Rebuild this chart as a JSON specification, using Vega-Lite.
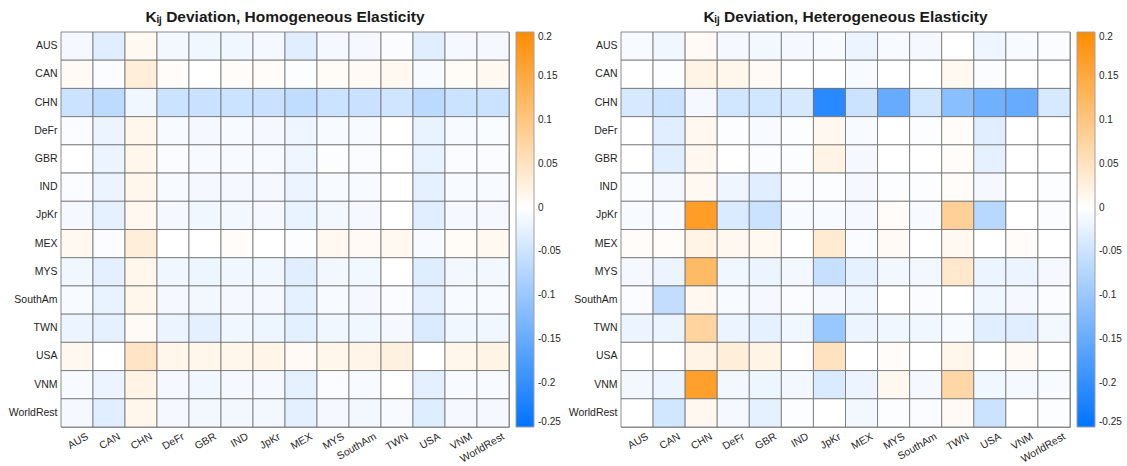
{
  "$schema": "https://vega.github.io/schema/vega-lite/v6.json",
  "padding": {"left": 7, "top": 9, "right": 0, "bottom": 0},
  "background": "white",
  "spacing": 5,
  "config": {
    "font": "Liberation Sans",
    "view": {"stroke": "#a0a0a0", "strokeWidth": 1},
    "title": {"fontSize": 15.5, "fontWeight": "bold", "color": "#1a1a1a", "offset": 6, "anchor": "middle"},
    "axis": {"labelFont": "Liberation Sans", "labelFontSize": 10.5, "labelColor": "#262626", "ticks": false, "domain": false, "grid": false, "title": null},
    "legend": {"labelFont": "Liberation Sans", "labelFontSize": 10, "labelColor": "#262626"}
  },
  "datasets": {
    "homog": [
      {"r":"AUS","c":"AUS","v":-0.01},{"r":"AUS","c":"CAN","v":-0.03},{"r":"AUS","c":"CHN","v":0.01},{"r":"AUS","c":"DeFr","v":-0.012},{"r":"AUS","c":"GBR","v":-0.015},{"r":"AUS","c":"IND","v":-0.015},{"r":"AUS","c":"JpKr","v":-0.01},{"r":"AUS","c":"MEX","v":-0.03},{"r":"AUS","c":"MYS","v":-0.01},{"r":"AUS","c":"SouthAm","v":-0.01},{"r":"AUS","c":"TWN","v":-0.005},{"r":"AUS","c":"USA","v":-0.03},{"r":"AUS","c":"VNM","v":-0.01},{"r":"AUS","c":"WorldRest","v":-0.01},
      {"r":"CAN","c":"AUS","v":0.008},{"r":"CAN","c":"CAN","v":-0.005},{"r":"CAN","c":"CHN","v":0.03},{"r":"CAN","c":"DeFr","v":0.005},{"r":"CAN","c":"GBR","v":0.0},{"r":"CAN","c":"IND","v":0.005},{"r":"CAN","c":"JpKr","v":0.005},{"r":"CAN","c":"MEX","v":-0.003},{"r":"CAN","c":"MYS","v":0.006},{"r":"CAN","c":"SouthAm","v":0.008},{"r":"CAN","c":"TWN","v":0.01},{"r":"CAN","c":"USA","v":-0.008},{"r":"CAN","c":"VNM","v":0.006},{"r":"CAN","c":"WorldRest","v":0.01},
      {"r":"CHN","c":"AUS","v":-0.05},{"r":"CHN","c":"CAN","v":-0.065},{"r":"CHN","c":"CHN","v":-0.015},{"r":"CHN","c":"DeFr","v":-0.05},{"r":"CHN","c":"GBR","v":-0.052},{"r":"CHN","c":"IND","v":-0.05},{"r":"CHN","c":"JpKr","v":-0.052},{"r":"CHN","c":"MEX","v":-0.062},{"r":"CHN","c":"MYS","v":-0.05},{"r":"CHN","c":"SouthAm","v":-0.052},{"r":"CHN","c":"TWN","v":-0.046},{"r":"CHN","c":"USA","v":-0.066},{"r":"CHN","c":"VNM","v":-0.05},{"r":"CHN","c":"WorldRest","v":-0.05},
      {"r":"DeFr","c":"AUS","v":-0.005},{"r":"DeFr","c":"CAN","v":-0.02},{"r":"DeFr","c":"CHN","v":0.015},{"r":"DeFr","c":"DeFr","v":-0.008},{"r":"DeFr","c":"GBR","v":-0.01},{"r":"DeFr","c":"IND","v":-0.008},{"r":"DeFr","c":"JpKr","v":-0.01},{"r":"DeFr","c":"MEX","v":-0.016},{"r":"DeFr","c":"MYS","v":-0.008},{"r":"DeFr","c":"SouthAm","v":-0.008},{"r":"DeFr","c":"TWN","v":0.0},{"r":"DeFr","c":"USA","v":-0.022},{"r":"DeFr","c":"VNM","v":-0.008},{"r":"DeFr","c":"WorldRest","v":-0.006},
      {"r":"GBR","c":"AUS","v":0.0},{"r":"GBR","c":"CAN","v":-0.02},{"r":"GBR","c":"CHN","v":0.015},{"r":"GBR","c":"DeFr","v":-0.005},{"r":"GBR","c":"GBR","v":-0.008},{"r":"GBR","c":"IND","v":-0.008},{"r":"GBR","c":"JpKr","v":-0.008},{"r":"GBR","c":"MEX","v":-0.016},{"r":"GBR","c":"MYS","v":-0.003},{"r":"GBR","c":"SouthAm","v":-0.005},{"r":"GBR","c":"TWN","v":0.0},{"r":"GBR","c":"USA","v":-0.022},{"r":"GBR","c":"VNM","v":-0.005},{"r":"GBR","c":"WorldRest","v":-0.005},
      {"r":"IND","c":"AUS","v":-0.005},{"r":"IND","c":"CAN","v":-0.02},{"r":"IND","c":"CHN","v":0.015},{"r":"IND","c":"DeFr","v":-0.008},{"r":"IND","c":"GBR","v":-0.01},{"r":"IND","c":"IND","v":-0.01},{"r":"IND","c":"JpKr","v":-0.01},{"r":"IND","c":"MEX","v":-0.02},{"r":"IND","c":"MYS","v":-0.008},{"r":"IND","c":"SouthAm","v":-0.008},{"r":"IND","c":"TWN","v":0.0},{"r":"IND","c":"USA","v":-0.025},{"r":"IND","c":"VNM","v":-0.008},{"r":"IND","c":"WorldRest","v":-0.008},
      {"r":"JpKr","c":"AUS","v":-0.01},{"r":"JpKr","c":"CAN","v":-0.025},{"r":"JpKr","c":"CHN","v":0.012},{"r":"JpKr","c":"DeFr","v":-0.01},{"r":"JpKr","c":"GBR","v":-0.015},{"r":"JpKr","c":"IND","v":-0.012},{"r":"JpKr","c":"JpKr","v":-0.01},{"r":"JpKr","c":"MEX","v":-0.022},{"r":"JpKr","c":"MYS","v":-0.012},{"r":"JpKr","c":"SouthAm","v":-0.01},{"r":"JpKr","c":"TWN","v":0.0},{"r":"JpKr","c":"USA","v":-0.03},{"r":"JpKr","c":"VNM","v":-0.01},{"r":"JpKr","c":"WorldRest","v":-0.01},
      {"r":"MEX","c":"AUS","v":0.01},{"r":"MEX","c":"CAN","v":-0.005},{"r":"MEX","c":"CHN","v":0.03},{"r":"MEX","c":"DeFr","v":0.0},{"r":"MEX","c":"GBR","v":0.0},{"r":"MEX","c":"IND","v":0.005},{"r":"MEX","c":"JpKr","v":0.0},{"r":"MEX","c":"MEX","v":-0.004},{"r":"MEX","c":"MYS","v":0.01},{"r":"MEX","c":"SouthAm","v":0.008},{"r":"MEX","c":"TWN","v":0.01},{"r":"MEX","c":"USA","v":-0.008},{"r":"MEX","c":"VNM","v":0.006},{"r":"MEX","c":"WorldRest","v":0.01},
      {"r":"MYS","c":"AUS","v":-0.015},{"r":"MYS","c":"CAN","v":-0.026},{"r":"MYS","c":"CHN","v":0.015},{"r":"MYS","c":"DeFr","v":-0.015},{"r":"MYS","c":"GBR","v":-0.018},{"r":"MYS","c":"IND","v":-0.015},{"r":"MYS","c":"JpKr","v":-0.015},{"r":"MYS","c":"MEX","v":-0.03},{"r":"MYS","c":"MYS","v":-0.012},{"r":"MYS","c":"SouthAm","v":-0.013},{"r":"MYS","c":"TWN","v":0.0},{"r":"MYS","c":"USA","v":-0.032},{"r":"MYS","c":"VNM","v":-0.012},{"r":"MYS","c":"WorldRest","v":-0.012},
      {"r":"SouthAm","c":"AUS","v":-0.008},{"r":"SouthAm","c":"CAN","v":-0.022},{"r":"SouthAm","c":"CHN","v":0.015},{"r":"SouthAm","c":"DeFr","v":-0.01},{"r":"SouthAm","c":"GBR","v":-0.012},{"r":"SouthAm","c":"IND","v":-0.01},{"r":"SouthAm","c":"JpKr","v":-0.01},{"r":"SouthAm","c":"MEX","v":-0.025},{"r":"SouthAm","c":"MYS","v":-0.008},{"r":"SouthAm","c":"SouthAm","v":-0.01},{"r":"SouthAm","c":"TWN","v":-0.005},{"r":"SouthAm","c":"USA","v":-0.026},{"r":"SouthAm","c":"VNM","v":-0.008},{"r":"SouthAm","c":"WorldRest","v":-0.008},
      {"r":"TWN","c":"AUS","v":-0.02},{"r":"TWN","c":"CAN","v":-0.025},{"r":"TWN","c":"CHN","v":0.008},{"r":"TWN","c":"DeFr","v":-0.02},{"r":"TWN","c":"GBR","v":-0.026},{"r":"TWN","c":"IND","v":-0.015},{"r":"TWN","c":"JpKr","v":-0.018},{"r":"TWN","c":"MEX","v":-0.027},{"r":"TWN","c":"MYS","v":-0.015},{"r":"TWN","c":"SouthAm","v":-0.015},{"r":"TWN","c":"TWN","v":-0.01},{"r":"TWN","c":"USA","v":-0.036},{"r":"TWN","c":"VNM","v":-0.015},{"r":"TWN","c":"WorldRest","v":-0.015},
      {"r":"USA","c":"AUS","v":0.012},{"r":"USA","c":"CAN","v":0.0},{"r":"USA","c":"CHN","v":0.045},{"r":"USA","c":"DeFr","v":0.015},{"r":"USA","c":"GBR","v":0.015},{"r":"USA","c":"IND","v":0.015},{"r":"USA","c":"JpKr","v":0.018},{"r":"USA","c":"MEX","v":0.008},{"r":"USA","c":"MYS","v":0.015},{"r":"USA","c":"SouthAm","v":0.018},{"r":"USA","c":"TWN","v":0.025},{"r":"USA","c":"USA","v":0.0},{"r":"USA","c":"VNM","v":0.015},{"r":"USA","c":"WorldRest","v":0.02},
      {"r":"VNM","c":"AUS","v":-0.008},{"r":"VNM","c":"CAN","v":-0.02},{"r":"VNM","c":"CHN","v":0.02},{"r":"VNM","c":"DeFr","v":-0.01},{"r":"VNM","c":"GBR","v":-0.015},{"r":"VNM","c":"IND","v":-0.01},{"r":"VNM","c":"JpKr","v":-0.01},{"r":"VNM","c":"MEX","v":-0.025},{"r":"VNM","c":"MYS","v":-0.005},{"r":"VNM","c":"SouthAm","v":-0.008},{"r":"VNM","c":"TWN","v":0.0},{"r":"VNM","c":"USA","v":-0.026},{"r":"VNM","c":"VNM","v":-0.008},{"r":"VNM","c":"WorldRest","v":-0.008},
      {"r":"WorldRest","c":"AUS","v":-0.01},{"r":"WorldRest","c":"CAN","v":-0.03},{"r":"WorldRest","c":"CHN","v":0.015},{"r":"WorldRest","c":"DeFr","v":-0.01},{"r":"WorldRest","c":"GBR","v":-0.012},{"r":"WorldRest","c":"IND","v":-0.012},{"r":"WorldRest","c":"JpKr","v":-0.012},{"r":"WorldRest","c":"MEX","v":-0.026},{"r":"WorldRest","c":"MYS","v":-0.01},{"r":"WorldRest","c":"SouthAm","v":-0.012},{"r":"WorldRest","c":"TWN","v":-0.008},{"r":"WorldRest","c":"USA","v":-0.032},{"r":"WorldRest","c":"VNM","v":-0.01},{"r":"WorldRest","c":"WorldRest","v":-0.01}
    ],
    "heterog": [
      {"r":"AUS","c":"AUS","v":-0.008},{"r":"AUS","c":"CAN","v":-0.015},{"r":"AUS","c":"CHN","v":0.008},{"r":"AUS","c":"DeFr","v":-0.01},{"r":"AUS","c":"GBR","v":-0.012},{"r":"AUS","c":"IND","v":-0.01},{"r":"AUS","c":"JpKr","v":-0.008},{"r":"AUS","c":"MEX","v":-0.02},{"r":"AUS","c":"MYS","v":-0.008},{"r":"AUS","c":"SouthAm","v":-0.01},{"r":"AUS","c":"TWN","v":0.0},{"r":"AUS","c":"USA","v":-0.016},{"r":"AUS","c":"VNM","v":-0.008},{"r":"AUS","c":"WorldRest","v":-0.005},
      {"r":"CAN","c":"AUS","v":0.0},{"r":"CAN","c":"CAN","v":-0.003},{"r":"CAN","c":"CHN","v":0.02},{"r":"CAN","c":"DeFr","v":0.015},{"r":"CAN","c":"GBR","v":0.008},{"r":"CAN","c":"IND","v":0.0},{"r":"CAN","c":"JpKr","v":0.0},{"r":"CAN","c":"MEX","v":-0.008},{"r":"CAN","c":"MYS","v":0.0},{"r":"CAN","c":"SouthAm","v":0.0},{"r":"CAN","c":"TWN","v":0.01},{"r":"CAN","c":"USA","v":-0.005},{"r":"CAN","c":"VNM","v":0.0},{"r":"CAN","c":"WorldRest","v":0.0},
      {"r":"CHN","c":"AUS","v":-0.04},{"r":"CHN","c":"CAN","v":-0.05},{"r":"CHN","c":"CHN","v":-0.01},{"r":"CHN","c":"DeFr","v":-0.045},{"r":"CHN","c":"GBR","v":-0.045},{"r":"CHN","c":"IND","v":-0.04},{"r":"CHN","c":"JpKr","v":-0.21},{"r":"CHN","c":"MEX","v":-0.05},{"r":"CHN","c":"MYS","v":-0.15},{"r":"CHN","c":"SouthAm","v":-0.045},{"r":"CHN","c":"TWN","v":-0.115},{"r":"CHN","c":"USA","v":-0.14},{"r":"CHN","c":"VNM","v":-0.15},{"r":"CHN","c":"WorldRest","v":-0.04},
      {"r":"DeFr","c":"AUS","v":0.0},{"r":"DeFr","c":"CAN","v":-0.03},{"r":"DeFr","c":"CHN","v":0.012},{"r":"DeFr","c":"DeFr","v":-0.003},{"r":"DeFr","c":"GBR","v":-0.008},{"r":"DeFr","c":"IND","v":-0.003},{"r":"DeFr","c":"JpKr","v":0.012},{"r":"DeFr","c":"MEX","v":-0.008},{"r":"DeFr","c":"MYS","v":0.0},{"r":"DeFr","c":"SouthAm","v":-0.003},{"r":"DeFr","c":"TWN","v":0.005},{"r":"DeFr","c":"USA","v":-0.03},{"r":"DeFr","c":"VNM","v":0.0},{"r":"DeFr","c":"WorldRest","v":0.0},
      {"r":"GBR","c":"AUS","v":0.0},{"r":"GBR","c":"CAN","v":-0.03},{"r":"GBR","c":"CHN","v":0.012},{"r":"GBR","c":"DeFr","v":0.0},{"r":"GBR","c":"GBR","v":-0.005},{"r":"GBR","c":"IND","v":-0.003},{"r":"GBR","c":"JpKr","v":0.02},{"r":"GBR","c":"MEX","v":-0.01},{"r":"GBR","c":"MYS","v":0.0},{"r":"GBR","c":"SouthAm","v":0.0},{"r":"GBR","c":"TWN","v":0.005},{"r":"GBR","c":"USA","v":-0.025},{"r":"GBR","c":"VNM","v":0.0},{"r":"GBR","c":"WorldRest","v":0.0},
      {"r":"IND","c":"AUS","v":-0.003},{"r":"IND","c":"CAN","v":-0.01},{"r":"IND","c":"CHN","v":0.01},{"r":"IND","c":"DeFr","v":-0.016},{"r":"IND","c":"GBR","v":-0.03},{"r":"IND","c":"IND","v":-0.005},{"r":"IND","c":"JpKr","v":-0.003},{"r":"IND","c":"MEX","v":-0.01},{"r":"IND","c":"MYS","v":-0.003},{"r":"IND","c":"SouthAm","v":-0.003},{"r":"IND","c":"TWN","v":0.005},{"r":"IND","c":"USA","v":-0.01},{"r":"IND","c":"VNM","v":0.0},{"r":"IND","c":"WorldRest","v":-0.003},
      {"r":"JpKr","c":"AUS","v":-0.008},{"r":"JpKr","c":"CAN","v":-0.008},{"r":"JpKr","c":"CHN","v":0.17},{"r":"JpKr","c":"DeFr","v":-0.035},{"r":"JpKr","c":"GBR","v":-0.05},{"r":"JpKr","c":"IND","v":-0.008},{"r":"JpKr","c":"JpKr","v":-0.008},{"r":"JpKr","c":"MEX","v":-0.01},{"r":"JpKr","c":"MYS","v":0.005},{"r":"JpKr","c":"SouthAm","v":-0.008},{"r":"JpKr","c":"TWN","v":0.08},{"r":"JpKr","c":"USA","v":-0.07},{"r":"JpKr","c":"VNM","v":0.0},{"r":"JpKr","c":"WorldRest","v":-0.005},
      {"r":"MEX","c":"AUS","v":0.005},{"r":"MEX","c":"CAN","v":0.005},{"r":"MEX","c":"CHN","v":0.02},{"r":"MEX","c":"DeFr","v":0.012},{"r":"MEX","c":"GBR","v":0.01},{"r":"MEX","c":"IND","v":0.0},{"r":"MEX","c":"JpKr","v":0.035},{"r":"MEX","c":"MEX","v":-0.005},{"r":"MEX","c":"MYS","v":0.008},{"r":"MEX","c":"SouthAm","v":0.0},{"r":"MEX","c":"TWN","v":0.01},{"r":"MEX","c":"USA","v":0.0},{"r":"MEX","c":"VNM","v":0.005},{"r":"MEX","c":"WorldRest","v":0.0},
      {"r":"MYS","c":"AUS","v":-0.01},{"r":"MYS","c":"CAN","v":-0.02},{"r":"MYS","c":"CHN","v":0.12},{"r":"MYS","c":"DeFr","v":-0.015},{"r":"MYS","c":"GBR","v":-0.02},{"r":"MYS","c":"IND","v":-0.012},{"r":"MYS","c":"JpKr","v":-0.055},{"r":"MYS","c":"MEX","v":-0.025},{"r":"MYS","c":"MYS","v":-0.012},{"r":"MYS","c":"SouthAm","v":-0.012},{"r":"MYS","c":"TWN","v":0.04},{"r":"MYS","c":"USA","v":-0.02},{"r":"MYS","c":"VNM","v":-0.02},{"r":"MYS","c":"WorldRest","v":-0.01},
      {"r":"SouthAm","c":"AUS","v":-0.005},{"r":"SouthAm","c":"CAN","v":-0.06},{"r":"SouthAm","c":"CHN","v":0.012},{"r":"SouthAm","c":"DeFr","v":-0.008},{"r":"SouthAm","c":"GBR","v":-0.01},{"r":"SouthAm","c":"IND","v":-0.005},{"r":"SouthAm","c":"JpKr","v":-0.01},{"r":"SouthAm","c":"MEX","v":-0.015},{"r":"SouthAm","c":"MYS","v":0.0},{"r":"SouthAm","c":"SouthAm","v":-0.005},{"r":"SouthAm","c":"TWN","v":0.0},{"r":"SouthAm","c":"USA","v":-0.015},{"r":"SouthAm","c":"VNM","v":-0.01},{"r":"SouthAm","c":"WorldRest","v":-0.005},
      {"r":"TWN","c":"AUS","v":-0.02},{"r":"TWN","c":"CAN","v":-0.02},{"r":"TWN","c":"CHN","v":0.075},{"r":"TWN","c":"DeFr","v":-0.02},{"r":"TWN","c":"GBR","v":-0.025},{"r":"TWN","c":"IND","v":-0.015},{"r":"TWN","c":"JpKr","v":-0.1},{"r":"TWN","c":"MEX","v":-0.02},{"r":"TWN","c":"MYS","v":-0.015},{"r":"TWN","c":"SouthAm","v":-0.015},{"r":"TWN","c":"TWN","v":-0.008},{"r":"TWN","c":"USA","v":-0.03},{"r":"TWN","c":"VNM","v":-0.03},{"r":"TWN","c":"WorldRest","v":-0.012},
      {"r":"USA","c":"AUS","v":0.0},{"r":"USA","c":"CAN","v":0.0},{"r":"USA","c":"CHN","v":0.02},{"r":"USA","c":"DeFr","v":0.03},{"r":"USA","c":"GBR","v":0.02},{"r":"USA","c":"IND","v":0.0},{"r":"USA","c":"JpKr","v":0.05},{"r":"USA","c":"MEX","v":0.0},{"r":"USA","c":"MYS","v":0.005},{"r":"USA","c":"SouthAm","v":0.0},{"r":"USA","c":"TWN","v":0.015},{"r":"USA","c":"USA","v":0.0},{"r":"USA","c":"VNM","v":0.008},{"r":"USA","c":"WorldRest","v":0.0},
      {"r":"VNM","c":"AUS","v":-0.012},{"r":"VNM","c":"CAN","v":-0.02},{"r":"VNM","c":"CHN","v":0.165},{"r":"VNM","c":"DeFr","v":-0.012},{"r":"VNM","c":"GBR","v":-0.018},{"r":"VNM","c":"IND","v":-0.012},{"r":"VNM","c":"JpKr","v":-0.035},{"r":"VNM","c":"MEX","v":-0.02},{"r":"VNM","c":"MYS","v":0.012},{"r":"VNM","c":"SouthAm","v":-0.01},{"r":"VNM","c":"TWN","v":0.07},{"r":"VNM","c":"USA","v":-0.015},{"r":"VNM","c":"VNM","v":-0.01},{"r":"VNM","c":"WorldRest","v":-0.008},
      {"r":"WorldRest","c":"AUS","v":0.0},{"r":"WorldRest","c":"CAN","v":-0.045},{"r":"WorldRest","c":"CHN","v":0.012},{"r":"WorldRest","c":"DeFr","v":-0.01},{"r":"WorldRest","c":"GBR","v":-0.025},{"r":"WorldRest","c":"IND","v":-0.003},{"r":"WorldRest","c":"JpKr","v":0.0},{"r":"WorldRest","c":"MEX","v":-0.012},{"r":"WorldRest","c":"MYS","v":-0.003},{"r":"WorldRest","c":"SouthAm","v":-0.005},{"r":"WorldRest","c":"TWN","v":0.008},{"r":"WorldRest","c":"USA","v":-0.05},{"r":"WorldRest","c":"VNM","v":0.0},{"r":"WorldRest","c":"WorldRest","v":-0.003}
    ]
  },
  "resolve": {"scale": {"color": "independent"}, "legend": {"color": "independent"}},
  "hconcat": [
    {
      "title": "Kᵢⱼ Deviation, Homogeneous Elasticity",
      "width": 448,
      "height": 395,
      "data": {"name": "homog"},
      "mark": {"type": "rect", "stroke": "#707070", "strokeWidth": 0.8},
      "encoding": {
        "x": {"field": "c", "type": "nominal", "sort": ["AUS","CAN","CHN","DeFr","GBR","IND","JpKr","MEX","MYS","SouthAm","TWN","USA","VNM","WorldRest"], "scale": {"paddingInner": 0, "paddingOuter": 0}, "axis": {"labelAngle": -30, "labelAlign": "right", "labelBaseline": "top", "labelPadding": 4, "labelOffset": 8}},
        "y": {"field": "r", "type": "nominal", "sort": ["AUS","CAN","CHN","DeFr","GBR","IND","JpKr","MEX","MYS","SouthAm","TWN","USA","VNM","WorldRest"], "scale": {"paddingInner": 0, "paddingOuter": 0}, "axis": {"labelPadding": 4}},
        "color": {"field": "v", "type": "quantitative", "scale": {"domain": [-0.25, 0, 0.2], "range": ["#0073ff", "#ffffff", "#ff8c00"], "interpolate": "rgb"},
          "legend": {"title": null, "orient": "right", "offset": 7, "gradientLength": 395, "gradientThickness": 18, "gradientStrokeColor": "#a0a0a0", "gradientStrokeWidth": 1, "values": [-0.25, -0.2, -0.15, -0.1, -0.05, 0, 0.05, 0.1, 0.15, 0.2], "labelExpr": "'' + datum.value", "labelOffset": 4, "labelOverlap": false, "padding": 0}}
      }
    },
    {
      "title": "Kᵢⱼ Deviation, Heterogeneous Elasticity",
      "width": 449,
      "height": 395,
      "data": {"name": "heterog"},
      "mark": {"type": "rect", "stroke": "#707070", "strokeWidth": 0.8},
      "encoding": {
        "x": {"field": "c", "type": "nominal", "sort": ["AUS","CAN","CHN","DeFr","GBR","IND","JpKr","MEX","MYS","SouthAm","TWN","USA","VNM","WorldRest"], "scale": {"paddingInner": 0, "paddingOuter": 0}, "axis": {"labelAngle": -30, "labelAlign": "right", "labelBaseline": "top", "labelPadding": 4, "labelOffset": 8}},
        "y": {"field": "r", "type": "nominal", "sort": ["AUS","CAN","CHN","DeFr","GBR","IND","JpKr","MEX","MYS","SouthAm","TWN","USA","VNM","WorldRest"], "scale": {"paddingInner": 0, "paddingOuter": 0}, "axis": {"labelPadding": 4}},
        "color": {"field": "v", "type": "quantitative", "scale": {"domain": [-0.25, 0, 0.2], "range": ["#0073ff", "#ffffff", "#ff8c00"], "interpolate": "rgb"},
          "legend": {"title": null, "orient": "right", "offset": 7, "gradientLength": 395, "gradientThickness": 18, "gradientStrokeColor": "#a0a0a0", "gradientStrokeWidth": 1, "values": [-0.25, -0.2, -0.15, -0.1, -0.05, 0, 0.05, 0.1, 0.15, 0.2], "labelExpr": "'' + datum.value", "labelOffset": 4, "labelOverlap": false, "padding": 0}}
      }
    }
  ]
}
